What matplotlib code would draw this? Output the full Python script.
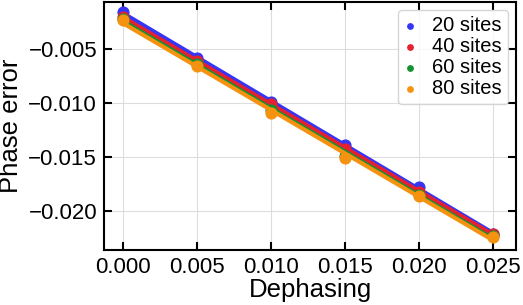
import numpy as np
import matplotlib.pyplot as plt

plt.rcParams['font.family'] = ['Liberation Sans', 'DejaVu Sans']

# Data
dephasing = [0.0, 0.005, 0.010, 0.015, 0.020, 0.025]
labels = ["20 sites", "40 sites", "60 sites", "80 sites"]
colors = ["#3535f5", "#e5212f", "#14912e", "#f59210"]
err_20 = [-0.0016, -0.0058, -0.0099, -0.0139, -0.0178, -0.0221]
err_40 = [-0.0020, -0.0061, -0.0101, -0.0142, -0.0182, -0.0221]
err_60 = [-0.0022, -0.0064, -0.0106, -0.0149, -0.0185, -0.0223]
err_80 = [-0.0023, -0.0066, -0.0109, -0.0151, -0.0186, -0.0224]
series = [err_20, err_40, err_60, err_80]

fig = plt.figure(figsize=(5.23, 3.05), dpi=100)
ax = fig.add_axes([0.199, 0.180, 0.788, 0.813])

x = np.array(dephasing)
for vals, lab, col in zip(series, labels, colors):
    vals = np.array(vals)
    ax.scatter(x, vals, s=60, color=col, label=lab, zorder=3)
    # linear fit through the points
    p = np.polyfit(x, vals, 1)
    ax.plot(x, np.polyval(p, x), color=col, lw=3.0, zorder=3)

ax.set_xlim(-0.00128, 0.02655)
ax.set_ylim(-0.0236, -0.00065)
ax.set_xticks([0.0, 0.005, 0.010, 0.015, 0.020, 0.025])
ax.set_yticks([-0.005, -0.010, -0.015, -0.020])
ax.set_xticklabels(["0.000", "0.005", "0.010", "0.015", "0.020", "0.025"])
ax.set_yticklabels(["\u22120.005", "\u22120.010", "\u22120.015", "\u22120.020"])

ax.grid(True, color="#dddddd", lw=0.8, zorder=0)
ax.set_axisbelow(True)
ax.tick_params(direction="in", top=True, right=True, length=6, width=1.5,
               labelsize=16, pad=5)
for sp in ax.spines.values():
    sp.set_linewidth(1.5)

ax.set_xlabel("Dephasing", fontsize=18.5, labelpad=0)
ax.set_ylabel("Phase error", fontsize=18.5, labelpad=4)

ax.legend(loc="upper right", fontsize=14.5, markerscale=0.5, handletextpad=0.8,
          borderpad=0.3, labelspacing=0.1, handlelength=0.6, borderaxespad=0.4)

fig.savefig("out.png", dpi=100)
